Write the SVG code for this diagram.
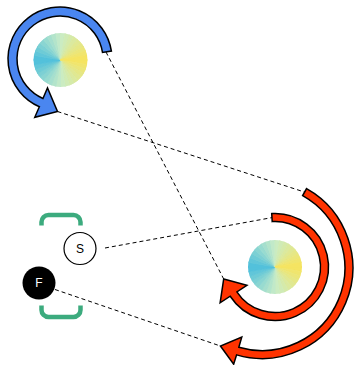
<svg xmlns="http://www.w3.org/2000/svg" width="354" height="365" viewBox="0 0 354 365">
<style>
.arrow{stroke:#000;stroke-width:1.5;stroke-linejoin:miter}
.blue{fill:#4a86f0}
.red{fill:#ff3300}
.dash{stroke:#000;stroke-width:1;stroke-dasharray:4 3;fill:none}
.bracket{fill:none;stroke:#3cab7e;stroke-width:4.5}
.lbl{font-family:"Liberation Sans",Arial,sans-serif;font-size:12px;text-anchor:middle;dominant-baseline:central}
#disk polygon{stroke-width:0.9;stroke-linejoin:round}
</style>
<defs>
<clipPath id="dclip"><circle cx="0" cy="0" r="27"/></clipPath>
<g id="disk" clip-path="url(#dclip)">
<polygon points="0,0 27,0 26.59,4.69" fill="#f5e462" stroke="#f5e462"/>
<polygon points="0,0 26.59,4.69 25.37,9.23" fill="#f0e56e" stroke="#f0e56e"/>
<polygon points="0,0 25.37,9.23 23.38,13.5" fill="#ebe67a" stroke="#ebe67a"/>
<polygon points="0,0 23.38,13.5 20.68,17.36" fill="#e5e786" stroke="#e5e786"/>
<polygon points="0,0 20.68,17.36 17.36,20.68" fill="#e0e892" stroke="#e0e892"/>
<polygon points="0,0 17.36,20.68 13.5,23.38" fill="#dbe99e" stroke="#dbe99e"/>
<polygon points="0,0 13.5,23.38 9.23,25.37" fill="#d5eaaa" stroke="#d5eaaa"/>
<polygon points="0,0 9.23,25.37 4.69,26.59" fill="#d0ebb6" stroke="#d0ebb6"/>
<polygon points="0,0 4.69,26.59 0,27" fill="#cbecc2" stroke="#cbecc2"/>
<polygon points="0,0 0,27 -4.69,26.59" fill="#c1e9c9" stroke="#c1e9c9"/>
<polygon points="0,0 -4.69,26.59 -9.23,25.37" fill="#b3e4cb" stroke="#b3e4cb"/>
<polygon points="0,0 -9.23,25.37 -13.5,23.38" fill="#a6dfce" stroke="#a6dfce"/>
<polygon points="0,0 -13.5,23.38 -17.36,20.68" fill="#98dbd0" stroke="#98dbd0"/>
<polygon points="0,0 -17.36,20.68 -20.68,17.36" fill="#8ad5d2" stroke="#8ad5d2"/>
<polygon points="0,0 -20.68,17.36 -23.38,13.5" fill="#7cd0d4" stroke="#7cd0d4"/>
<polygon points="0,0 -23.38,13.5 -25.37,9.23" fill="#6ecbd6" stroke="#6ecbd6"/>
<polygon points="0,0 -25.37,9.23 -26.59,4.69" fill="#61c6d9" stroke="#61c6d9"/>
<polygon points="0,0 -26.59,4.69 -27,0" fill="#53c1db" stroke="#53c1db"/>
<polygon points="0,0 -27,0 -26.59,-4.69" fill="#53c1db" stroke="#53c1db"/>
<polygon points="0,0 -26.59,-4.69 -25.37,-9.23" fill="#61c6d9" stroke="#61c6d9"/>
<polygon points="0,0 -25.37,-9.23 -23.38,-13.5" fill="#6ecbd6" stroke="#6ecbd6"/>
<polygon points="0,0 -23.38,-13.5 -20.68,-17.36" fill="#7cd0d4" stroke="#7cd0d4"/>
<polygon points="0,0 -20.68,-17.36 -17.36,-20.68" fill="#8ad5d2" stroke="#8ad5d2"/>
<polygon points="0,0 -17.36,-20.68 -13.5,-23.38" fill="#98dbd0" stroke="#98dbd0"/>
<polygon points="0,0 -13.5,-23.38 -9.23,-25.37" fill="#a6dfce" stroke="#a6dfce"/>
<polygon points="0,0 -9.23,-25.37 -4.69,-26.59" fill="#b3e4cb" stroke="#b3e4cb"/>
<polygon points="0,0 -4.69,-26.59 0,-27" fill="#c1e9c9" stroke="#c1e9c9"/>
<polygon points="0,0 0,-27 4.69,-26.59" fill="#cbecc2" stroke="#cbecc2"/>
<polygon points="0,0 4.69,-26.59 9.23,-25.37" fill="#d0ebb6" stroke="#d0ebb6"/>
<polygon points="0,0 9.23,-25.37 13.5,-23.38" fill="#d5eaaa" stroke="#d5eaaa"/>
<polygon points="0,0 13.5,-23.38 17.36,-20.68" fill="#dbe99e" stroke="#dbe99e"/>
<polygon points="0,0 17.36,-20.68 20.68,-17.36" fill="#e0e892" stroke="#e0e892"/>
<polygon points="0,0 20.68,-17.36 23.38,-13.5" fill="#e5e786" stroke="#e5e786"/>
<polygon points="0,0 23.38,-13.5 25.37,-9.23" fill="#ebe67a" stroke="#ebe67a"/>
<polygon points="0,0 25.37,-9.23 26.59,-4.69" fill="#f0e56e" stroke="#f0e56e"/>
<polygon points="0,0 26.59,-4.69 27,0" fill="#f5e462" stroke="#f5e462"/>
</g>
</defs>
<rect width="354" height="365" fill="#fff"/>
<g id="connectors">
<line class="dash" x1="106" y1="52" x2="223.7" y2="279"/>
<line class="dash" x1="57.5" y1="111.5" x2="304.6" y2="192.1"/>
<line class="dash" x1="105" y1="248" x2="272" y2="217.6"/>
<line class="dash" x1="55" y1="289.5" x2="220.4" y2="346"/>
</g>
<g id="node-top">
<use href="#disk" x="60.5" y="60"/>
<path class="arrow blue" d="M111.40,51.09 A52,52 0 1 0 39.35,106.73 L34.78,117.28 L57.5,111.5 L47.49,87.91 L42.92,98.47 A43,43 0 1 1 102.50,52.46 Z"/>
</g>
<g id="node-right">
<use href="#disk" x="275" y="267"/>
<path class="arrow red" d="M271.73,213.60 A53.5,53.5 0 1 1 230.18,296.22 L220.13,302.77 L223.70,278.95 L246.94,285.29 L236.88,291.85 A45.5,45.5 0 1 0 272.22,221.59 Z"/>
<path class="arrow red" d="M306.57,188.60 A90.8,90.8 0 0 1 236.59,354.88 L233.66,364.2 L220.43,346.0 L241.77,337.11 L238.83,347.20 A82.8,82.8 0 0 0 302.65,195.56 Z"/>
</g>
<g id="node-brackets">
<path class="bracket" d="M41.5,225.5 V222 A7,7 0 0 1 48.5,215 H73.5 A7,7 0 0 1 80.5,222 V225.5"/>
<path class="bracket" d="M41.5,305.5 V310 A7,7 0 0 0 48.5,317 H73.5 A7,7 0 0 0 80.5,310 V305.5"/>
</g>
<g id="node-S">
<circle cx="80" cy="248.5" r="16" fill="#fff" stroke="#000" stroke-width="1.2"/>
<text class="lbl" x="80" y="248.5" fill="#000">S</text>
</g>
<g id="node-F">
<circle cx="39" cy="283" r="16.5" fill="#000"/>
<text class="lbl" x="39" y="283" fill="#fff">F</text>
</g>
</svg>
